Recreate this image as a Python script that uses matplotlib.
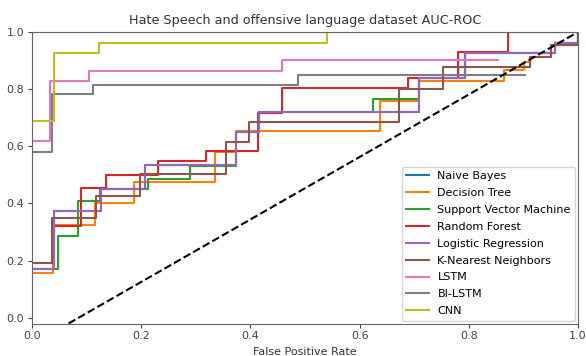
import matplotlib
matplotlib.use("Agg")
import matplotlib.pyplot as plt

# step points (fpr, tpr), drawn with steps-post
models = ["Naive Bayes", "Decision Tree", "Support Vector Machine", "Random Forest",
          "Logistic Regression", "K-Nearest Neighbors", "LSTM", "BI-LSTM", "CNN"]

nb_fpr = [0, 0.04, 0.126, 0.207, 0.374, 0.416, 0.709, 0.793, 0.958, 1.0]
nb_tpr = [0.17, 0.372, 0.45, 0.533, 0.651, 0.721, 0.84, 0.925, 0.96, 1.0]

dt_fpr = [0, 0.039, 0.115, 0.186, 0.336, 0.374, 0.637, 0.709, 0.865, 0.902, 0.913, 0.95, 1.0]
dt_tpr = [0.158, 0.325, 0.40, 0.474, 0.579, 0.654, 0.757, 0.83, 0.866, 0.896, 0.912, 0.955, 1.0]

svm_fpr = [0, 0.048, 0.084, 0.124, 0.212, 0.29, 0.374, 0.416, 0.624, 0.709, 0.793, 0.958, 1.0]
svm_tpr = [0.17, 0.287, 0.41, 0.45, 0.486, 0.531, 0.651, 0.721, 0.766, 0.84, 0.925, 0.96, 1.0]

rf_fpr = [0, 0.041, 0.09, 0.136, 0.23, 0.318, 0.414, 0.458, 0.688, 0.78, 0.871, 1.0]
rf_tpr = [0.19, 0.322, 0.453, 0.5, 0.549, 0.585, 0.716, 0.803, 0.84, 0.93, 1.0, 1.0]

lr_fpr = [0, 0.04, 0.126, 0.207, 0.374, 0.416, 0.709, 0.793, 0.958, 1.0]
lr_tpr = [0.17, 0.372, 0.45, 0.533, 0.651, 0.721, 0.84, 0.925, 0.96, 1.0]

knn_fpr = [0, 0.037, 0.118, 0.197, 0.355, 0.397, 0.673, 0.752, 0.913, 0.95, 1.0]
knn_tpr = [0.193, 0.349, 0.427, 0.503, 0.614, 0.686, 0.80, 0.878, 0.912, 0.955, 1.0]

lstm_fpr = [0, 0.033, 0.105, 0.458, 0.853]
lstm_tpr = [0.617, 0.83, 0.865, 0.902, 0.902]

bilstm_fpr = [0, 0.036, 0.111, 0.488, 0.903]
bilstm_tpr = [0.581, 0.782, 0.815, 0.85, 0.85]

cnn_fpr = [0, 0.041, 0.123, 0.541]
cnn_tpr = [0.688, 0.925, 0.963, 1.0]

diag_fpr = [0.067, 1.0]
diag_tpr = [-0.02, 1.0]

curves = [(nb_fpr, nb_tpr), (dt_fpr, dt_tpr), (svm_fpr, svm_tpr), (rf_fpr, rf_tpr),
          (lr_fpr, lr_tpr), (knn_fpr, knn_tpr), (lstm_fpr, lstm_tpr),
          (bilstm_fpr, bilstm_tpr), (cnn_fpr, cnn_tpr)]

fig = plt.figure(figsize=(5.86, 3.56), dpi=100)
ax = fig.add_axes([32 / 586, 1 - 323.5 / 356, 546 / 586, 291.5 / 356])

for name, (fpr, tpr) in zip(models, curves):
    ax.plot(fpr, tpr, drawstyle="steps-post", lw=1.5, label=name)

ax.plot(diag_fpr, diag_tpr, "k--", lw=1.5)

ax.set_xlim(0, 1)
ax.set_ylim(-0.02, 1.0)
ax.set_xticks([0.0, 0.2, 0.4, 0.6, 0.8, 1.0])
ax.set_yticks([0.0, 0.2, 0.4, 0.6, 0.8, 1.0])
ax.tick_params(labelsize=8, length=3, pad=2.5, colors="#444444")
for s in ax.spines.values():
    s.set_color("#666666")

ax.set_title("Hate Speech and offensive language dataset AUC-ROC", fontsize=9.2, color="#333333")
ax.set_xlabel("False Positive Rate", fontsize=8, color="#333333")
ax.legend(loc="lower right", fontsize=8, borderaxespad=0.25, labelspacing=0.62)

fig.savefig("out.png", dpi=100)
